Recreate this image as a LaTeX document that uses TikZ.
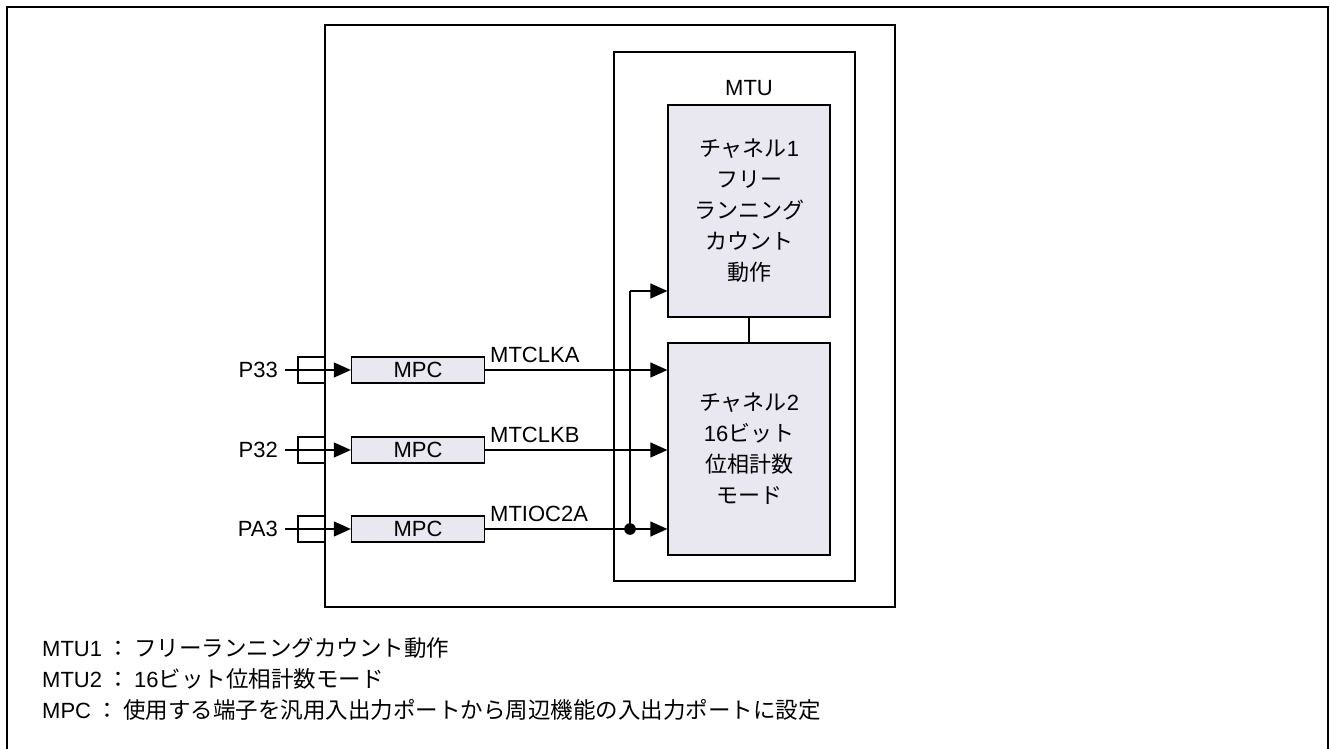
\documentclass[tikz,border=0pt]{standalone}
\usepackage{fontspec}
\setmainfont{Liberation Sans}
\newfontfamily\jp{Noto Sans CJK JP}
\usetikzlibrary{arrows.meta,calc}
\definecolor{boxfill}{RGB}{233,231,240}
\newcommand{\njp}[1]{{\fontsize{22.5}{27}\selectfont\jp #1}}
\newcommand{\ncolon}{\hspace{5pt}{\jp ：}\hspace{5pt}}
\tikzset{
  frame/.style={draw, line width=1.3pt, inner sep=0pt},
  chbox/.style={draw, line width=1.3pt, fill=boxfill, inner sep=0pt, align=center,
    font=\fontsize{22}{31}\selectfont},
  mpcbox/.style={draw, line width=1.3pt, fill=boxfill, inner sep=0pt,
    font=\fontsize{22}{26}\selectfont},
  portbox/.style={draw, line width=1.3pt, inner sep=0pt},
  lbl/.style={inner sep=0pt, font=\fontsize{22}{26}\selectfont},
  sig/.style={line width=1.3pt, -{Triangle[length=17pt,width=15pt]}},
  wire/.style={line width=1.3pt},
}
\begin{document}
\begin{tikzpicture}[x=1pt,y=-1pt]
\useasboundingbox (0,0) rectangle (1330,749);
% outer frame (open at bottom)
\draw[line width=2.5pt] (7,749) -- (7,7) -- (1328,7) -- (1328,749);
% main box
\node[frame, minimum width=570pt, minimum height=582pt] (main) at (610,316) {};
% MTU box
\node[frame, minimum width=241pt, minimum height=529pt] (mtu) at (734.5,316.5) {};
\node[lbl] (mtulbl) at (749,88) {MTU};
% channels
\node[chbox, minimum width=162pt, minimum height=212pt] (ch1) at (749,211)
  {{\jp チャネル}1\\{\jp フリー}\\{\jp ランニング}\\{\jp カウント}\\{\jp 動作}};
\node[chbox, minimum width=162pt, minimum height=212pt] (ch2) at (749,449)
  {{\jp チャネル}2\\16{\jp ビット}\\{\jp 位相計数}\\{\jp モード}};
\draw[wire] (ch1.south) -- (ch2.north);
% ports
\foreach \n/\t/\y in {a/P33/370, b/P32/450, c/PA3/529}{
  \node[portbox, minimum width=27pt, minimum height=26pt] (port\n) at (311.5,\y) {};
  \node[mpcbox, minimum width=133pt, minimum height=26pt] (mpc\n) at (418,\y) {MPC};
  \node[lbl, anchor=east] (pin\n) at (278,\y) {\t};
  \coordinate (pins\n) at (285,\y);
  \draw[sig] (pins\n) -- (mpc\n.west);
}
\draw[sig] (mpca.east) -- (mpca.east -| ch2.west);
\draw[sig] (mpcb.east) -- (mpcb.east -| ch2.west);
\draw[sig] (mpcc.east) -- (mpcc.east -| ch2.west);
\node[lbl, anchor=base west] (la) at (490,362) {MTCLKA};
\node[lbl, anchor=base west] (lb) at (490,442) {MTCLKB};
\node[lbl, anchor=base west] (lc) at (490,521) {MTIOC2A};
% branch to channel 1
\coordinate (dot) at (630,529);
\coordinate (bend) at (630,291);
\fill (dot) circle (5.8pt);
\draw[wire] (dot) -- (bend);
\draw[sig] (bend) -- (bend -| ch1.west);
% notes
\node[lbl, anchor=base west] (n1) at (42,656) {MTU1\ncolon\njp{フリーランニングカウント動作}};
\node[lbl, anchor=base west] (n2) at (42,687) {MTU2\ncolon 16\njp{ビット位相計数モード}};
\node[lbl, anchor=base west] (n3) at (42,718) {MPC\ncolon\njp{使用する端子を汎用入出力ポートから周辺機能の入出力ポートに設定}};
\end{tikzpicture}
\end{document}
